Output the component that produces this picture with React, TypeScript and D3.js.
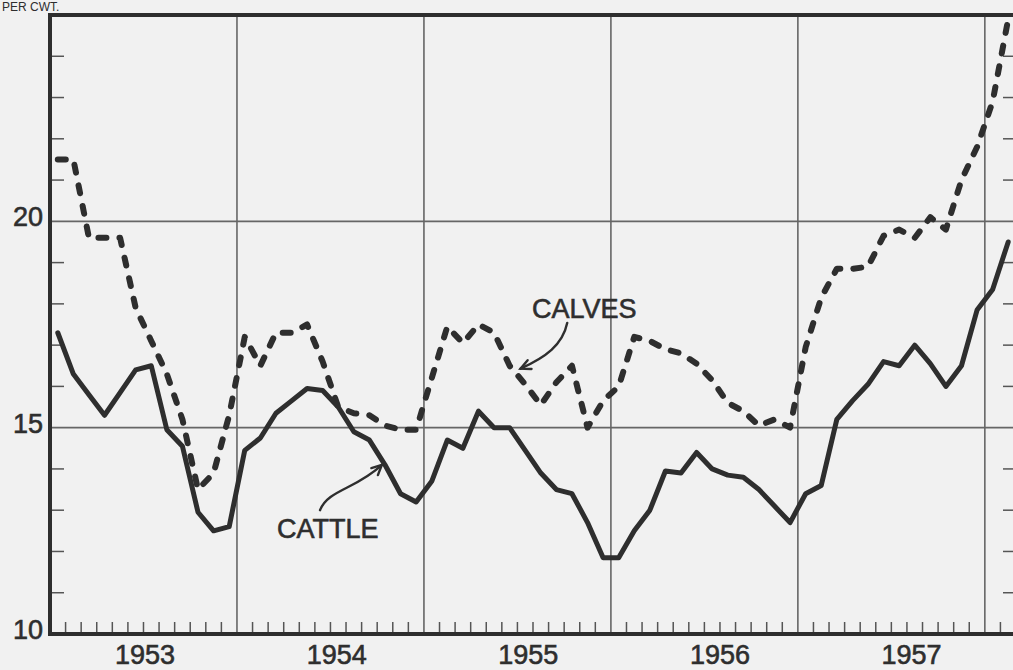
import React from "react";
import * as d3 from "d3";

// monthly prices, $ per cwt, Jan 1953 - Feb 1958
const calves = [
  21.5, 21.5, 19.6, 19.6, 19.6, 17.9, 17.1, 16.3, 15.2, 13.5, 13.9, 15.3,
  17.2, 16.5, 17.3, 17.3, 17.5, 16.6, 15.5, 15.35, 15.3, 15.05, 14.95, 14.95,
  16.2, 17.45, 17.05, 17.5, 17.3, 16.5, 16.05, 15.55, 16.1, 16.5, 15.0, 15.65,
  16.0, 17.2, 17.1, 16.9, 16.8, 16.55, 16.15, 15.6, 15.4, 15.05, 15.2, 15.0,
  16.95, 18.15, 18.85, 18.85, 18.9, 19.65, 19.8, 19.6, 20.1, 19.8, 21.0, 21.8,
  22.9, 24.9,
];
const cattle = [
  17.3, 16.3, 15.8, 15.3, 15.85, 16.4, 16.5, 14.95, 14.55, 12.95, 12.5, 12.6,
  14.45, 14.75, 15.35, 15.65, 15.95, 15.9, 15.5, 14.9, 14.7, 14.1, 13.4, 13.2,
  13.7, 14.7, 14.5, 15.4, 15.0, 15.0, 14.45, 13.9, 13.5, 13.4, 12.7, 11.85,
  11.85, 12.5, 13.0, 13.95, 13.9, 14.4, 14.0, 13.85, 13.8, 13.5, 13.1, 12.7,
  13.4, 13.6, 15.2, 15.65, 16.05, 16.6, 16.5, 17.0, 16.55, 16.0, 16.5, 17.85,
  18.35, 19.5,
];
const years = [1953, 1954, 1955, 1956, 1957];
const yLabels = [10, 15, 20];
const yGrid = [15, 20];
const unitTicks = [11, 12, 13, 14, 16, 17, 18, 19, 21, 22, 23, 24];
const totalMonths = 62;

const W = 1013;
const H = 670;
const ink = "#2e2e2e";
const font = "'Liberation Sans', Arial, sans-serif";

export default function App() {
  const x = d3.scaleLinear().domain([0, totalMonths]).range([50, 1016]);
  const y = d3.scaleLinear().domain([10, 25]).range([634, 15]);
  // hand-lettered year labels sit a little wider apart than the years
  const yearPos = d3.scaleLinear().domain([0, years.length - 1]).range([x(6.1), x(55.3)]);

  const line = d3
    .line<number>()
    .x((_, i) => x(i + 0.5))
    .y((d) => y(d));

  const monthTicks = d3.range(1, totalMonths).filter((m) => m % 12 !== 0);
  const yearLines = d3.range(12, totalMonths, 12);

  const textStyle = { fill: ink, stroke: ink, strokeWidth: 0.6 };

  // annotation positions in data space (month, value)
  const arrow = (s: number[], c1: number[], c2: number[], e: number[]) => {
    const p = (q: number[]) => [x(q[0]), y(q[1])];
    const [sx, sy] = p(s), [ax, ay] = p(c1), [bx, by] = p(c2), [ex, ey] = p(e);
    const ang = Math.atan2(ey - by, ex - bx);
    const L = 11;
    const h1 = [ex - L * Math.cos(ang - 0.45), ey - L * Math.sin(ang - 0.45)];
    const h2 = [ex - L * Math.cos(ang + 0.45), ey - L * Math.sin(ang + 0.45)];
    return (
      <g fill="none" stroke={ink} strokeWidth={2.4} strokeLinecap="round">
        <path d={`M${sx},${sy} C${ax},${ay} ${bx},${by} ${ex},${ey}`} />
        <path d={`M${h1[0]},${h1[1]} L${ex},${ey} L${h2[0]},${h2[1]}`} />
      </g>
    );
  };

  return (
    <svg
      width={W}
      height={H}
      style={{ position: "absolute", left: 0, top: 0, background: "#f1f1f1" }}
      fontFamily={font}
    >
      <rect width={W} height={H} fill="#f1f1f1" />

      {/* grid */}
      {yGrid.map((v) => (
        <line key={v} x1={x(0)} x2={x(totalMonths)} y1={y(v)} y2={y(v)} stroke="#666" strokeWidth={1.6} />
      ))}
      {yearLines.map((m) => (
        <line key={m} x1={x(m)} x2={x(m)} y1={y(25)} y2={y(10)} stroke="#666" strokeWidth={1.6} />
      ))}

      {/* month ticks along bottom */}
      {monthTicks.map((m) => (
        <line key={m} x1={x(m)} x2={x(m)} y1={y(10)} y2={y(10) - 12} stroke="#555" strokeWidth={1.5} />
      ))}
      {/* unit ticks on both sides */}
      {unitTicks.map((v) => (
        <g key={v} stroke="#555" strokeWidth={1.5}>
          <line x1={x(0)} x2={x(0) + 14} y1={y(v)} y2={y(v)} />
          <line x1={x(totalMonths) - 13} x2={x(totalMonths)} y1={y(v)} y2={y(v)} />
        </g>
      ))}

      {/* frame */}
      <rect
        x={x(0)}
        y={y(25)}
        width={x(totalMonths) - x(0)}
        height={y(10) - y(25)}
        fill="none"
        stroke={ink}
        strokeWidth={4}
      />

      {/* series */}
      <path
        d={line(calves) ?? ""}
        fill="none"
        stroke={ink}
        strokeWidth={6}
        strokeDasharray="8 13"
        strokeLinecap="round"
        strokeLinejoin="round"
      />
      <path
        d={line(cattle) ?? ""}
        fill="none"
        stroke={ink}
        strokeWidth={5}
        strokeLinecap="round"
        strokeLinejoin="round"
      />

      {/* y labels */}
      {yLabels.map((v) => (
        <text key={v} x={x(0) - 7} y={y(v) + 5} textAnchor="end" fontSize={27} {...textStyle}>
          {v}
        </text>
      ))}
      <text x={2} y={11} fontSize={12} fill={ink}>
        PER CWT.
      </text>

      {/* year labels */}
      {years.map((yr, i) => (
        <text key={yr} x={yearPos(i)} y={664} textAnchor="middle" fontSize={27} {...textStyle}>
          {yr}
        </text>
      ))}

      {/* annotations */}
      <text x={x(30.94)} y={y(17.66)} fontSize={27} {...textStyle}>
        CALVES
      </text>
      {arrow([33.2, 17.54], [32.9, 17.0], [31.8, 16.7], [30.2, 16.43])}
      <text x={x(14.57)} y={y(12.33)} fontSize={27} {...textStyle}>
        CATTLE
      </text>
      {arrow([17.33, 13.0], [17.85, 13.5], [19.6, 13.5], [21.3, 14.1])}
    </svg>
  );
}
